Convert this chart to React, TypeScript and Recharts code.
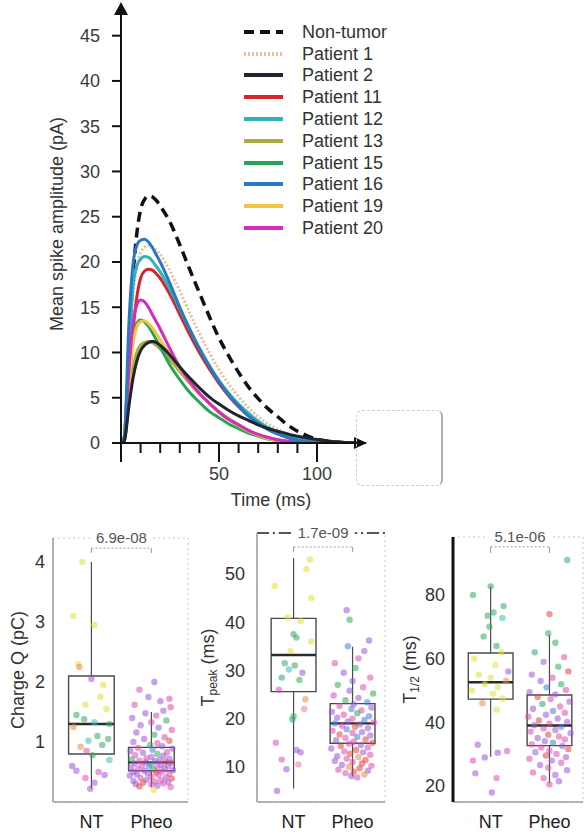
import React from "react";
import {
  LineChart,
  Line,
  XAxis,
  YAxis,
  Legend,
  Label,
  ReferenceDot,
  ReferenceArea,
  ReferenceLine,
  ComposedChart,
  Scatter,
} from "recharts";

const FONT = '"Liberation Sans", Arial, Helvetica, sans-serif';

// ---- mean spike waveforms (top panel) ----
const timeMs = [0, 1, 2, 4, 6, 8, 10, 12, 14, 16, 18, 20, 25, 30, 35, 40, 45, 50, 55, 60, 65, 70, 75, 80, 85, 90, 95, 100, 110, 120];
const nonTumor = [0, 0, 1, 10, 18, 23, 25.8, 26.9, 27.3, 27.2, 26.8, 26.2, 24.4, 21.9, 19.2, 16.6, 14.0, 11.6, 9.6, 7.8, 6.2, 4.9, 3.8, 2.9, 2.0, 1.3, 0.8, 0.4, 0.1, 0];
const patient1 = [0, 0, 1, 9, 16, 19.5, 21, 21.6, 21.8, 21.7, 21.3, 20.8, 19.0, 16.8, 14.4, 12.1, 10.0, 8.1, 6.5, 5.1, 3.9, 2.9, 2.1, 1.5, 1.0, 0.6, 0.35, 0.2, 0.05, 0];
const patient2 = [0, 0, 0.5, 4, 7, 9, 10.2, 10.8, 11.1, 11.2, 11.1, 10.8, 9.7, 8.4, 7.2, 6.1, 5.1, 4.3, 3.6, 3.0, 2.5, 2.0, 1.6, 1.3, 1.0, 0.75, 0.55, 0.38, 0.12, 0.03];
const patient11 = [0, 0, 0.5, 6, 12, 16, 18.2, 19, 19.2, 19.1, 18.7, 18.2, 16.4, 14.2, 12.0, 10.0, 8.2, 6.6, 5.2, 4.0, 3.0, 2.2, 1.5, 1.0, 0.6, 0.35, 0.2, 0.1, 0, 0];
const patient12 = [0, 0, 1, 10, 17, 19.5, 20.3, 20.6, 20.5, 20.1, 19.5, 18.9, 17.0, 14.8, 12.6, 10.5, 8.6, 6.9, 5.5, 4.3, 3.3, 2.4, 1.7, 1.2, 0.8, 0.5, 0.3, 0.15, 0.03, 0];
const patient13 = [0, 0, 0.5, 4.5, 8, 10, 10.8, 11.1, 11.2, 11.1, 10.8, 10.4, 9.2, 7.9, 6.6, 5.4, 4.4, 3.5, 2.7, 2.0, 1.4, 0.95, 0.6, 0.35, 0.2, 0.1, 0.05, 0, 0, 0];
const patient15 = [0, 0, 1, 7.5, 11.5, 13.2, 13.6, 13.4, 12.9, 12.2, 11.4, 10.6, 8.6, 7.0, 5.6, 4.5, 3.5, 2.8, 2.1, 1.6, 1.1, 0.75, 0.45, 0.25, 0.1, 0.05, 0, 0, 0, 0];
const patient16 = [0, 0, 1.5, 13, 19.5, 21.8, 22.4, 22.5, 22.2, 21.6, 20.8, 20.0, 17.6, 15.0, 12.6, 10.4, 8.5, 6.8, 5.3, 4.1, 3.0, 2.2, 1.5, 1.0, 0.6, 0.3, 0.15, 0.05, 0, 0];
const patient19 = [0, 0, 0.8, 6.5, 10.8, 12.8, 13.4, 13.5, 13.2, 12.7, 12.1, 11.4, 9.8, 8.2, 6.8, 5.5, 4.4, 3.4, 2.6, 1.9, 1.3, 0.85, 0.5, 0.3, 0.15, 0.05, 0, 0, 0, 0];
const patient20 = [0, 0, 1, 8, 13, 15.2, 15.8, 15.6, 15.0, 14.2, 13.4, 12.6, 10.4, 8.4, 6.8, 5.5, 4.4, 3.4, 2.6, 2.0, 1.4, 0.95, 0.6, 0.35, 0.2, 0.1, 0.05, 0, 0, 0];
const ampTicks = [0, 5, 10, 15, 20, 25, 30, 35, 40, 45];
const timeTicks = [0, 10, 20, 30, 40, 50, 60, 70, 80, 90, 100];

// legend order
const waveSeries = [
  { key: "nt", name: "Non-tumor", values: nonTumor, color: "#111111", dash: "10 6", width: 3.5 },
  { key: "p1", name: "Patient 1", values: patient1, color: "#e9bf9f", dash: "2 2", width: 3 },
  { key: "p2", name: "Patient 2", values: patient2, color: "#1f2430", dash: undefined, width: 3 },
  { key: "p11", name: "Patient 11", values: patient11, color: "#d8232a", dash: undefined, width: 3 },
  { key: "p12", name: "Patient 12", values: patient12, color: "#2fb3b8", dash: undefined, width: 3 },
  { key: "p13", name: "Patient 13", values: patient13, color: "#a9ad3c", dash: undefined, width: 3 },
  { key: "p15", name: "Patient 15", values: patient15, color: "#27a35a", dash: undefined, width: 3 },
  { key: "p16", name: "Patient 16", values: patient16, color: "#2a78c2", dash: undefined, width: 3 },
  { key: "p19", name: "Patient 19", values: patient19, color: "#f2c53d", dash: undefined, width: 3 },
  { key: "p20", name: "Patient 20", values: patient20, color: "#d62bbf", dash: undefined, width: 3 },
];
// drawing order (black and blue end up on top like in the figure)
const drawOrder = ["nt", "p1", "p11", "p12", "p13", "p15", "p19", "p20", "p16", "p2"];

const waveRows = timeMs.map((t, i) => {
  const row: Record<string, number> = { t };
  waveSeries.forEach((s) => (row[s.key] = s.values[i]));
  return row;
});

// ---- per-spike parameters (bottom panels) ----
// point = [jitter, value, colour index]
type Pt = [number, number, number];
const groups = ["NT", "Pheo"];
const palette = ["#e2dc3a", "#36a862", "#9a55d8", "#e04bb0", "#4a7ed8", "#ef8844", "#3dbdb5", "#e04444", "#f27aa2"];

const chargeTicks = [1, 2, 3, 4];
const chargeNtBox = [0.22, 0.8, 1.3, 2.1, 4.0];
const chargePheoBox = [0.25, 0.52, 0.66, 0.91, 1.5];
const chargeNt: Pt[] = [
  [-0.15, 4.0, 0], [-0.3, 3.1, 0], [0.05, 2.95, 0], [-0.22, 2.3, 0], [-0.2, 2.25, 5], [0.0, 2.05, 2],
  [0.2, 1.95, 0], [0.15, 1.75, 0], [-0.1, 1.62, 0], [0.25, 1.55, 0], [-0.25, 1.45, 1], [-0.12, 1.38, 1],
  [0.05, 1.33, 6], [-0.3, 1.25, 5], [0.3, 1.3, 1], [0.1, 1.1, 1], [0.28, 1.05, 1], [-0.05, 1.02, 6],
  [0.18, 0.95, 1], [-0.18, 0.92, 5], [-0.08, 0.85, 3], [0.02, 0.78, 1], [0.3, 0.7, 6], [-0.32, 0.6, 2],
  [-0.25, 0.52, 2], [0.12, 0.5, 3], [0.22, 0.45, 2], [-0.1, 0.4, 3], [0.05, 0.32, 2], [-0.02, 0.22, 2],
];
const chargePheo: Pt[] = [
  [0.05, 2.0, 2], [-0.2, 1.87, 3], [-0.05, 1.75, 2], [0.3, 1.72, 3], [0.15, 1.68, 2], [-0.28, 1.62, 3],
  [0.32, 1.58, 3], [0.2, 1.52, 2], [-0.1, 1.48, 2], [0.08, 1.44, 3], [-0.32, 1.4, 2], [0.25, 1.36, 1],
  [0.0, 1.33, 3], [-0.18, 1.28, 2], [0.12, 1.24, 2], [0.34, 1.2, 3], [-0.25, 1.16, 2], [0.05, 1.12, 1],
  [0.22, 1.08, 3], [-0.12, 1.05, 2], [0.3, 1.02, 7], [-0.3, 1.0, 2], [0.1, 0.98, 3], [-0.02, 0.95, 1],
  [0.18, 0.93, 2], [-0.22, 0.9, 3], [0.35, 0.89, 2], [0.02, 0.87, 4], [-0.35, 0.85, 2], [0.26, 0.83, 3],
  [-0.14, 0.82, 2], [0.1, 0.8, 1], [-0.27, 0.78, 3], [0.2, 0.77, 2], [0.0, 0.75, 2], [-0.08, 0.73, 3],
  [0.3, 0.72, 2], [-0.33, 0.71, 1], [0.14, 0.7, 2], [-0.2, 0.69, 3], [0.06, 0.68, 2], [0.24, 0.67, 7],
  [-0.1, 0.66, 2], [0.33, 0.65, 3], [-0.28, 0.64, 2], [0.0, 0.63, 1], [0.16, 0.62, 2], [-0.16, 0.61, 3],
  [0.28, 0.6, 2], [-0.04, 0.59, 4], [0.1, 0.58, 3], [-0.34, 0.57, 2], [0.22, 0.56, 2], [-0.22, 0.55, 3],
  [0.04, 0.54, 1], [0.36, 0.53, 2], [-0.12, 0.52, 2], [0.18, 0.51, 3], [-0.3, 0.5, 2], [0.08, 0.49, 7],
  [-0.06, 0.48, 2], [0.3, 0.47, 3], [-0.24, 0.46, 2], [0.12, 0.45, 3], [-0.36, 0.44, 2], [0.0, 0.42, 3],
  [0.24, 0.41, 2], [-0.18, 0.4, 3], [0.34, 0.39, 7], [-0.08, 0.37, 2], [0.16, 0.36, 3], [-0.3, 0.35, 2],
  [0.06, 0.34, 3], [0.28, 0.33, 2], [-0.14, 0.32, 7], [0.2, 0.31, 3], [-0.26, 0.3, 2], [0.0, 0.29, 3],
  [0.1, 0.27, 2], [-0.2, 0.26, 7], [0.32, 0.25, 3], [0.04, 0.2, 0],
];

const tpeakTicks = [10, 20, 30, 40, 50];
const tpeakNtBox = [5.5, 25.6, 33.2, 40.8, 53.3];
const tpeakPheoBox = [8.0, 14.9, 19.0, 23.1, 34.9];
const tpeakNt: Pt[] = [
  [0.28, 53, 0], [0.22, 51, 0], [-0.32, 47.5, 0], [0.3, 45, 0], [-0.1, 41, 0], [0.12, 40.2, 0],
  [0.0, 37.5, 1], [0.05, 36.8, 1], [0.3, 36, 0], [-0.05, 34, 0], [-0.15, 31.5, 1], [0.02, 31, 1],
  [0.15, 29.5, 2], [-0.08, 30.2, 6], [-0.2, 28.5, 1], [0.1, 28, 1], [-0.25, 26, 3], [0.2, 24, 5],
  [0.18, 22, 8], [0.0, 20.5, 1], [-0.02, 19.8, 1], [-0.3, 15, 3], [0.05, 13.5, 2], [0.12, 13, 2],
  [-0.2, 11.5, 3], [0.08, 10.5, 8], [-0.12, 9.5, 2], [-0.28, 5, 2],
];
const tpeakPheo: Pt[] = [
  [-0.1, 42.5, 2], [-0.05, 40.5, 1], [0.28, 36.2, 2], [-0.08, 35, 4], [0.2, 34, 2], [0.1, 32.5, 3],
  [-0.3, 31.5, 3], [0.05, 30.5, 1], [-0.15, 29.5, 2], [0.3, 28.5, 3], [0.0, 27.8, 2], [-0.25, 27, 1],
  [0.18, 26.5, 3], [-0.05, 25.8, 2], [0.35, 25.2, 1], [-0.32, 24.8, 3], [0.1, 24.3, 2], [-0.12, 23.8, 1],
  [0.25, 23.4, 4], [0.02, 23, 2], [-0.22, 22.6, 3], [0.32, 22.3, 2], [-0.02, 22, 4], [0.15, 21.7, 3],
  [-0.35, 21.4, 2], [0.08, 21.1, 1], [-0.15, 20.8, 3], [0.28, 20.5, 4], [-0.26, 20.2, 2], [0.0, 20, 3],
  [0.2, 19.7, 4], [-0.08, 19.4, 2], [0.36, 19.2, 3], [-0.3, 19, 4], [0.12, 18.8, 2], [-0.18, 18.5, 3],
  [0.04, 18.3, 7], [0.26, 18, 2], [-0.1, 17.8, 4], [-0.34, 17.5, 3], [0.16, 17.2, 2], [0.0, 17, 3],
  [-0.22, 16.7, 7], [0.3, 16.5, 2], [0.08, 16.2, 4], [-0.12, 16, 3], [0.22, 15.7, 7], [-0.28, 15.5, 2],
  [0.02, 15.2, 3], [0.34, 15, 7], [-0.06, 14.8, 3], [0.14, 14.5, 2], [-0.2, 14.3, 7], [0.26, 14, 3],
  [-0.36, 13.8, 2], [0.06, 13.5, 7], [-0.14, 13.2, 3], [0.18, 13, 2], [-0.04, 12.7, 7], [0.3, 12.5, 3],
  [-0.26, 12.2, 2], [0.1, 12, 5], [-0.1, 11.7, 3], [0.22, 11.4, 7], [-0.3, 11.2, 2], [0.0, 11, 3],
  [0.16, 10.7, 7], [-0.18, 10.4, 2], [0.32, 10.2, 3], [-0.06, 10, 5], [0.12, 9.7, 7], [-0.24, 9.4, 3],
  [0.26, 9.2, 2], [0.02, 9, 7], [-0.12, 8.7, 3], [0.2, 8.4, 5], [-0.02, 8.1, 2], [0.08, 7.8, 3],
];

const thalfTicks = [20, 40, 60, 80];
const thalfNtBox = [29.2, 47.3, 52.6, 61.8, 82.7];
const thalfPheoBox = [20.9, 32.7, 39.0, 48.6, 67.5];
const thalfNt: Pt[] = [
  [0.0, 82.7, 1], [-0.3, 80, 1], [0.22, 76.5, 1], [0.05, 74.5, 1], [-0.05, 73.5, 1], [0.2, 72.8, 6],
  [-0.02, 70, 1], [-0.12, 67, 1], [0.1, 64, 1], [0.18, 62, 0], [-0.28, 60, 0], [0.08, 58, 0],
  [0.3, 56, 2], [-0.2, 55, 0], [0.0, 54, 0], [0.26, 53, 5], [-0.1, 52, 0], [0.12, 51, 0],
  [-0.32, 50, 0], [0.04, 49, 0], [0.2, 47.5, 0], [-0.14, 46, 5], [0.1, 44, 0], [-0.22, 33, 2],
  [0.28, 31, 3], [0.12, 30.5, 2], [-0.1, 29, 2], [-0.3, 28, 3], [-0.26, 24, 2], [0.1, 22.5, 3],
  [0.02, 18, 2],
];
const thalfPheo: Pt[] = [
  [0.3, 91, 1], [0.0, 74, 7], [-0.02, 68, 1], [0.1, 65, 1], [-0.25, 62, 1], [0.25, 60.5, 3],
  [-0.1, 59, 2], [0.15, 57.5, 1], [0.32, 56, 7], [-0.3, 55, 2], [0.05, 54, 3], [-0.15, 53, 2],
  [0.2, 52, 1], [-0.05, 51, 4], [0.28, 50.2, 3], [-0.34, 49.5, 2], [0.1, 48.8, 2], [-0.2, 48, 7],
  [0.02, 47.3, 3], [0.34, 46.5, 2], [-0.12, 45.8, 1], [0.18, 45, 3], [-0.28, 44.3, 2], [0.06, 43.6, 4],
  [0.26, 43, 3], [-0.06, 42.4, 2], [-0.36, 41.8, 3], [0.14, 41.2, 2], [-0.18, 40.6, 7], [0.3, 40.1, 2],
  [0.0, 39.6, 3], [-0.26, 39.1, 2], [0.2, 38.6, 4], [-0.1, 38.1, 3], [0.1, 37.6, 2], [-0.32, 37.1, 3],
  [0.36, 36.6, 2], [-0.02, 36.1, 7], [0.16, 35.6, 3], [-0.2, 35.1, 2], [0.26, 34.6, 3], [-0.08, 34.1, 2],
  [0.06, 33.6, 4], [-0.3, 33.1, 3], [0.22, 32.6, 2], [-0.14, 32.1, 3], [0.32, 31.6, 7], [0.0, 31.1, 3],
  [-0.24, 30.6, 2], [0.12, 30.1, 3], [-0.06, 29.6, 7], [0.28, 29.1, 2], [-0.34, 28.6, 3], [0.04, 28, 2],
  [0.2, 27.3, 3], [-0.16, 26.6, 2], [-0.02, 25.8, 3], [0.3, 25, 2], [-0.28, 24.3, 3], [0.1, 23.5, 2],
  [-0.1, 22.5, 3], [0.16, 21.5, 2], [0.0, 20.5, 3],
];

// ---- helpers ----
const TimeTick = (props: any) => {
  const { x, y, payload } = props;
  const v = payload.value;
  const major = v % 50 === 0;
  return (
    <g>
      <line x1={x} x2={x} y1={y} y2={y + (major ? 19 : 10)} stroke="#111" strokeWidth={2} />
      {major && v > 0 && (
        <text x={x} y={y + 31} dy="0.35em" textAnchor="middle" fontSize={18} fill="#3a3a3a" fontFamily={FONT}>
          {v}
        </text>
      )}
    </g>
  );
};

const VTitle = ({ x, y, main, sub, rest }: { x: number; y: number; main: string; sub?: string; rest?: string }) => (
  <text
    transform={`translate(${x},${y}) rotate(-90)`}
    textAnchor="middle"
    dominantBaseline="central"
    fontSize={18}
    fill="#333"
    fontFamily={FONT}
  >
    {main}
    {sub && (
      <tspan fontSize={12} dy={5}>
        {sub}
      </tspan>
    )}
    {rest && <tspan dy={sub ? -5 : 0}>{rest}</tspan>}
  </text>
);

const renderLegend = () => (
  <div style={{ fontFamily: FONT, fontSize: 18, color: "#333" }}>
    {waveSeries.map((s) => (
      <div key={s.key} style={{ display: "flex", alignItems: "center", height: 21.8 }}>
        <svg width={42} height={8}>
          <line x1={1} y1={4} x2={40} y2={4} stroke={s.color} strokeWidth={4} strokeDasharray={s.dash} />
        </svg>
        <span style={{ marginLeft: 17, lineHeight: "18px", whiteSpace: "nowrap" }}>{s.name}</span>
      </div>
    ))}
  </div>
);

const dotShape = (p: any) => (
  <circle cx={p.cx} cy={p.cy} r={3.2} fill={palette[p.payload.c]} fillOpacity={0.55} />
);

const boxHalf = 0.38;
function boxElements(center: number, b: number[], key: string) {
  const [lo, q1, med, q3, hi] = b;
  return [
    <ReferenceLine key={key + "w1"} segment={[{ x: center, y: lo }, { x: center, y: q1 }]} stroke="#4a4a4a" strokeWidth={1.2} />,
    <ReferenceLine key={key + "w2"} segment={[{ x: center, y: q3 }, { x: center, y: hi }]} stroke="#4a4a4a" strokeWidth={1.2} />,
    <ReferenceArea key={key + "b"} x1={center - boxHalf} x2={center + boxHalf} y1={q1} y2={q3} fill="none" stroke="#4a4a4a" strokeWidth={1.4} />,
    <ReferenceLine key={key + "m"} segment={[{ x: center - boxHalf, y: med }, { x: center + boxHalf, y: med }]} stroke="#2a2a2a" strokeWidth={2.4} />,
  ];
}

const PANEL_TOP = 515;
const PANEL_H = 321;
const XAXIS_H = 34;

interface PanelCfg {
  left: number;
  width: number;
  yWidth: number;
  mTop: number;
  mRight: number;
  xDomain: number[];
  yDomain: number[];
  ticks: number[];
  tickMargin: number;
  nt: Pt[];
  pheo: Pt[];
  ntBox: number[];
  pheoBox: number[];
  pval: string;
  bracket: number[];
  titleX: number;
  title: { main: string; sub?: string; rest?: string };
  axisColor: string;
  axisWidth: number;
  topDash?: boolean;
}

const pLabel = (text: string) => (p: any) => {
  const w = text.length * 8.2;
  return (
    <g>
      <rect x={p.cx - w / 2 - 3} y={p.cy - 8} width={w + 6} height={15} fill="#fff" />
      <text x={p.cx} y={p.cy} dy="0.35em" textAnchor="middle" fontSize={15} fill="#555" fontFamily={FONT}>
        {text}
      </text>
    </g>
  );
};

function BoxPanel({ cfg }: { cfg: PanelCfg }) {
  const [xa, xb] = cfg.xDomain;
  const [ya, yb] = cfg.yDomain;
  const ntPts = cfg.nt.map(([j, v, c]) => ({ x: 1 + j, y: v, c }));
  const phPts = cfg.pheo.map(([j, v, c]) => ({ x: 2 + j, y: v, c }));
  const plotH = PANEL_H - XAXIS_H - cfg.mTop;
  const [bTop, bLow] = cfg.bracket;
  return (
    <div style={{ position: "absolute", left: cfg.left, top: PANEL_TOP }}>
      <ComposedChart
        width={cfg.width}
        height={PANEL_H}
        margin={{ top: cfg.mTop, right: cfg.mRight, left: 0, bottom: 0 }}
      >
        <XAxis
          type="number"
          dataKey="x"
          domain={[xa, xb]}
          ticks={[1, 2]}
          interval={0}
          allowDataOverflow
          tickFormatter={(v) => groups[Math.round(v) - 1]}
          tickLine={false}
          tickSize={0}
          tickMargin={13}
          height={XAXIS_H}
          axisLine={{ stroke: "#9c9c9c", strokeWidth: 1.5 }}
          tick={{ fontSize: 18, fill: "#222", fontFamily: FONT }}
        />
        <YAxis
          type="number"
          dataKey="y"
          domain={[ya, yb]}
          ticks={cfg.ticks}
          interval={0}
          allowDataOverflow
          width={cfg.yWidth}
          tickLine={false}
          tickSize={0}
          tickMargin={cfg.tickMargin}
          axisLine={{ stroke: cfg.axisColor, strokeWidth: cfg.axisWidth }}
          tick={{ fontSize: 18, fill: "#333", fontFamily: FONT }}
        >
          <Label
            content={() => (
              <VTitle x={cfg.titleX} y={cfg.mTop + plotH / 2} main={cfg.title.main} sub={cfg.title.sub} rest={cfg.title.rest} />
            )}
          />
        </YAxis>
        <ReferenceArea x1={xa} x2={xb} y1={ya} y2={yb} fill="none" stroke="#c6c6c6" strokeDasharray="2 3" />
        {cfg.topDash && (
          <ReferenceLine y={yb} stroke="#222" strokeWidth={1.5} strokeDasharray="12 4 2 4" />
        )}
        <ReferenceLine segment={[{ x: 1, y: bTop }, { x: 2, y: bTop }]} stroke="#9a9a9a" strokeDasharray="2 2" />
        <ReferenceLine segment={[{ x: 1, y: bTop }, { x: 1, y: bLow }]} stroke="#9a9a9a" />
        <ReferenceLine segment={[{ x: 2, y: bTop }, { x: 2, y: bLow }]} stroke="#9a9a9a" />
        {boxElements(1, cfg.ntBox, "nt")}
        {boxElements(2, cfg.pheoBox, "ph")}
        <Scatter data={ntPts} shape={dotShape} isAnimationActive={false} />
        <Scatter data={phPts} shape={dotShape} isAnimationActive={false} />
        <ReferenceDot x={1.5} y={yb} r={0} ifOverflow="visible" shape={pLabel(cfg.pval)} />
      </ComposedChart>
    </div>
  );
}

const panels: PanelCfg[] = [
  {
    left: 0, width: 195, yWidth: 53, mTop: 23, mRight: 7,
    xDomain: [0.36, 2.61], yDomain: [0, 4.4], ticks: chargeTicks, tickMargin: 8,
    nt: chargeNt, pheo: chargePheo, ntBox: chargeNtBox, pheoBox: chargePheoBox,
    pval: "6.9e-08", bracket: [4.23, 4.15], titleX: 17.5,
    title: { main: "Charge Q (pC)" }, axisColor: "#9c9c9c", axisWidth: 1.5,
  },
  {
    left: 195, width: 197, yWidth: 62, mTop: 18, mRight: 7,
    xDomain: [0.38, 2.55], yDomain: [2.7, 58.5], ticks: tpeakTicks, tickMargin: 12,
    nt: tpeakNt, pheo: tpeakPheo, ntBox: tpeakNtBox, pheoBox: tpeakPheoBox,
    pval: "1.7e-09", bracket: [55.6, 54.6], titleX: 13,
    title: { main: "T", sub: "peak", rest: " (ms)" }, axisColor: "#9c9c9c", axisWidth: 1.5, topDash: true,
  },
  {
    left: 392, width: 195, yWidth: 61, mTop: 22, mRight: 4,
    xDomain: [0.36, 2.57], yDomain: [15, 98.2], ticks: thalfTicks, tickMargin: 8,
    nt: thalfNt, pheo: thalfPheo, ntBox: thalfNtBox, pheoBox: thalfPheoBox,
    pval: "5.1e-06", bracket: [95.1, 93.2], titleX: 18,
    title: { main: "T", sub: "1/2", rest: " (ms)" }, axisColor: "#111", axisWidth: 3,
  },
];

export default function App() {
  return (
    <div
      style={{
        position: "absolute",
        left: 0,
        top: 0,
        width: 587,
        height: 836,
        background: "#fff",
        fontFamily: FONT,
        overflow: "hidden",
      }}
    >
      <div style={{ position: "absolute", left: 0, top: 0 }}>
        <LineChart width={420} height={510} data={waveRows} margin={{ top: 4, right: 54, left: 0, bottom: 0 }}>
          <XAxis
            type="number"
            dataKey="t"
            domain={[0, 125]}
            ticks={timeTicks}
            interval={0}
            allowDataOverflow
            height={67}
            tickLine={false}
            tickSize={0}
            tickMargin={0}
            tick={<TimeTick />}
            axisLine={{ stroke: "#111", strokeWidth: 2 }}
          >
            <Label content={() => <text x={271} y={500} dy="0.35em" textAnchor="middle" fontSize={18} fill="#333" fontFamily={FONT}>Time (ms)</text>} />
          </XAxis>
          <YAxis
            type="number"
            domain={[0, 48.5]}
            ticks={ampTicks}
            interval={0}
            allowDataOverflow
            width={121}
            tickSize={9}
            tickMargin={12}
            tickLine={{ stroke: "#111", strokeWidth: 2 }}
            axisLine={{ stroke: "#111", strokeWidth: 2 }}
            tick={{ fontSize: 18, fill: "#3a3a3a", fontFamily: FONT }}
          >
            <Label content={() => <VTitle x={57} y={224} main="Mean spike amplitude (pA)" />} />
          </YAxis>
          <Legend
            layout="vertical"
            align="center"
            verticalAlign="middle"
            content={renderLegend}
            wrapperStyle={{ left: 243, top: 21, width: 170 }}
          />
          {drawOrder.map((k) => {
            const s = waveSeries.find((w) => w.key === k)!;
            return (
              <Line
                key={s.key}
                type="monotone"
                dataKey={s.key}
                name={s.name}
                stroke={s.color}
                strokeWidth={s.width}
                strokeDasharray={s.dash}
                dot={false}
                activeDot={false}
                isAnimationActive={false}
              />
            );
          })}
          <ReferenceDot
            x={0}
            y={48.5}
            r={0}
            ifOverflow="visible"
            shape={(p: any) => (
              <polygon points={`${p.cx},${p.cy - 2} ${p.cx - 7},${p.cy + 11} ${p.cx + 7},${p.cy + 11}`} fill="#111" />
            )}
          />
          <ReferenceDot
            x={125}
            y={0}
            r={0}
            ifOverflow="visible"
            shape={(p: any) => (
              <polygon points={`${p.cx + 1},${p.cy} ${p.cx - 12},${p.cy - 6} ${p.cx - 12},${p.cy + 6}`} fill="#111" />
            )}
          />
        </LineChart>
      </div>
      <div
        style={{
          position: "absolute",
          left: 356,
          top: 410,
          width: 84,
          height: 74,
          border: "1px dashed #cfcfcf",
          borderRight: "2px solid #b0b0b0",
          borderRadius: 6,
        }}
      />
      {panels.map((cfg, i) => (
        <BoxPanel key={i} cfg={cfg} />
      ))}
    </div>
  );
}
